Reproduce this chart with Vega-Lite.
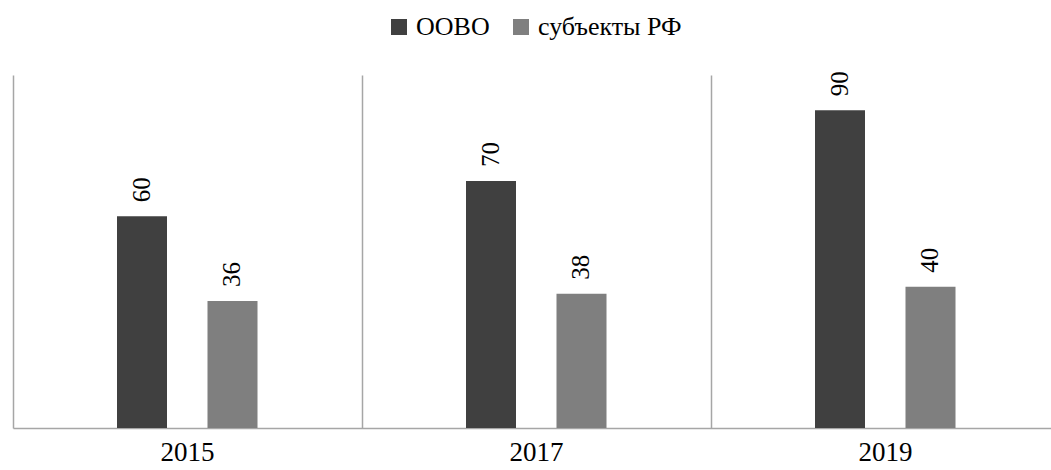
{
  "$schema": "https://vega.github.io/schema/vega-lite/v6.json",
  "width": 1038,
  "height": 353,
  "autosize": {"type": "none"},
  "padding": {"left": 13, "top": 75, "right": 0, "bottom": 42},
  "background": "white",
  "config": {
    "view": {"stroke": null},
    "font": "Liberation Serif"
  },
  "data": {
    "values": [
      {"year": "2015", "series": "ООВО", "value": 60},
      {"year": "2015", "series": "субъекты РФ", "value": 36},
      {"year": "2017", "series": "ООВО", "value": 70},
      {"year": "2017", "series": "субъекты РФ", "value": 38},
      {"year": "2019", "series": "ООВО", "value": 90},
      {"year": "2019", "series": "субъекты РФ", "value": 40}
    ]
  },
  "encoding": {
    "x": {
      "field": "year",
      "type": "nominal",
      "scale": {"range": [0, 1047], "paddingInner": 0, "paddingOuter": 0},
      "axis": {
        "title": null,
        "labelAngle": 0,
        "bandPosition": 0,
        "ticks": false,
        "grid": true,
        "gridColor": "#a6a6a6",
        "gridWidth": 1.5,
        "domainColor": "#a6a6a6",
        "domainWidth": 1.5,
        "labelFont": "Liberation Serif",
        "labelFontSize": 27,
        "labelColor": "#000000",
        "labelPadding": 11
      }
    },
    "xOffset": {
      "field": "series",
      "type": "nominal",
      "sort": ["ООВО", "субъекты РФ"],
      "scale": {"range": [104, 244.5], "paddingInner": 0.4475, "paddingOuter": 0}
    },
    "y": {
      "field": "value",
      "type": "quantitative",
      "scale": {"domain": [0, 100]},
      "axis": null
    }
  },
  "layer": [
    {
      "mark": {"type": "bar"},
      "encoding": {
        "color": {
          "field": "series",
          "type": "nominal",
          "sort": ["ООВО", "субъекты РФ"],
          "scale": {"domain": ["ООВО", "субъекты РФ"], "range": ["#404040", "#7f7f7f"]},
          "legend": {
            "title": null,
            "orient": "none",
            "direction": "horizontal",
            "legendX": 373,
            "legendY": -61,
            "symbolType": "square",
            "symbolSize": 256,
            "symbolStrokeWidth": 0,
            "labelFont": "Liberation Serif",
            "labelFontSize": 26,
            "labelLimit": 0,
            "labelColor": "#000000",
            "labelOffset": 4,
            "columnPadding": 18,
            "padding": 0
          }
        }
      }
    },
    {
      "mark": {
        "type": "text",
        "angle": 270,
        "align": "left",
        "baseline": "middle",
        "dx": 14,
        "font": "Liberation Serif",
        "fontSize": 25,
        "color": "#000000"
      },
      "encoding": {"text": {"field": "value", "type": "quantitative"}}
    }
  ]
}
